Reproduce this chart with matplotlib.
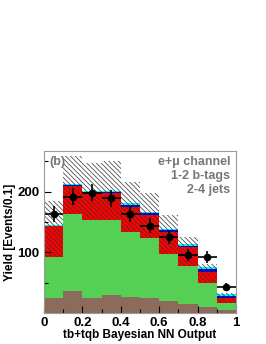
import numpy as np
import matplotlib
matplotlib.use('Agg')
import matplotlib.pyplot as plt
from matplotlib.ticker import FixedLocator

plt.rcParams['font.family'] = ['Liberation Sans', 'DejaVu Sans']
plt.rcParams['font.weight'] = 'bold'
plt.rcParams['hatch.linewidth'] = 0.5

# bins of the NN output
edges = np.linspace(0, 1, 11)
# stacked background components (events per bin)
brown = [25, 37, 24, 29, 26, 25, 19, 15, 10, 5]
green = [68, 127, 130, 125, 108, 98, 79, 62, 40, 12]
red = [50, 45, 45, 43, 41, 39, 35, 31, 18, 7]
blue = [1, 2, 1, 2, 3, 3, 3, 3, 4, 4]
cyan = [1, 2, 1, 2, 3, 2, 3, 3, 4, 3]
# upper edge of the hatched uncertainty band
band_top = [184, 258, 247, 250, 216, 198, 162, 126, 80, 33]
# data
data = [163, 192, 198, 189, 163, 144, 125, 96, 92, 43]

fig = plt.figure(figsize=(2.66, 3.44), dpi=100)
ax = fig.add_axes([0.1654, 0.0901, 0.7218, 0.4709])

left = edges[:-1]
bottom = np.zeros(10)
for vals, col in [(brown, '#8b6b5c'), (green, '#55d055'), (red, '#ff0000'),
                  (blue, '#0000dd'), (cyan, '#00ffff')]:
    ax.bar(left, vals, width=0.1, bottom=bottom, align='edge', color=col, linewidth=0)
    bottom = bottom + np.array(vals)

# hatched band from top of green to upper uncertainty
band_low = np.array(brown) + np.array(green)
ax.bar(left, np.array(band_top) - band_low, width=0.1, bottom=band_low, align='edge',
       facecolor='none', edgecolor='#333333', hatch='\\' * 7, linewidth=0)

centers = (edges[:-1] + edges[1:]) / 2
ax.errorbar(centers, data, xerr=0.05, yerr=np.sqrt(data), fmt='o', color='black',
            ms=4.5, elinewidth=1.2, capsize=0)

ax.set_xlim(0, 1)
ax.set_ylim(0, 267)
ax.xaxis.set_major_locator(FixedLocator([0, 0.2, 0.4, 0.6, 0.8, 1.0]))
ax.xaxis.set_minor_locator(FixedLocator([0.1, 0.3, 0.5, 0.7, 0.9]))
ax.set_xticklabels(['0', '0.2', '0.4', '0.6', '0.8', '1'])
ax.yaxis.set_major_locator(FixedLocator([100, 200]))
ax.yaxis.set_minor_locator(FixedLocator([50, 150, 250]))
ax.tick_params(which='both', direction='in', labelsize=9.5, top=False, right=False)
ax.tick_params(which='major', length=5, width=0.8)
ax.tick_params(which='minor', length=3, width=0.8)
ax.tick_params(axis='x', pad=3)
for s in ax.spines.values():
    s.set_color('#999999')

ax.set_xlabel('tb+tqb Bayesian NN Output', fontsize=8.5, fontweight='bold', labelpad=0)
ax.set_ylabel('Yield [Events/0.1]', fontsize=8.5, fontweight='bold', labelpad=1)

ax.text(0.03, 0.97, '(b)', transform=ax.transAxes, ha='left', va='top',
        fontsize=9, color='#777777', fontweight='bold')
ax.text(0.97, 0.97, 'e+\u03bc channel\n1-2 b-tags\n2-4 jets', transform=ax.transAxes,
        ha='right', va='top', fontsize=9, color='#777777', fontweight='bold',
        linespacing=1.25, multialignment='right')

fig.savefig('out.png', dpi=100)
